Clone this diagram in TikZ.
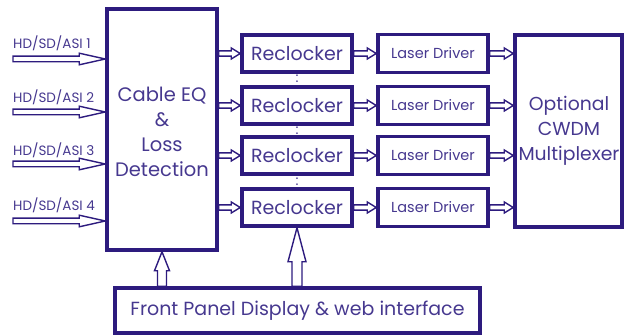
\documentclass[tikz,border=0pt]{standalone}
\usepackage{fontspec}
\setmainfont{Poppins}
\usetikzlibrary{calc,backgrounds}
\definecolor{navy}{HTML}{2D1B7E}
\definecolor{ink}{HTML}{46388F}
\tikzset{
  box/.style={draw=navy, line width=3.5pt, inner sep=0pt, text=ink, align=center},
  txt/.style={inner sep=0pt, text=ink, align=center},
  harrow/.style n args={3}{draw=navy, line width=1.4pt, fill=white, line join=miter,
    to path={
      ($(\tikztostart)!#1!90:(\tikztotarget)$)
      -- ($($(\tikztotarget)!#3!(\tikztostart)$)!#1!90:(\tikztotarget)$)
      -- ($($(\tikztotarget)!#3!(\tikztostart)$)!#2!90:(\tikztotarget)$)
      -- (\tikztotarget)
      -- ($($(\tikztotarget)!#3!(\tikztostart)$)!#2!-90:(\tikztotarget)$)
      -- ($($(\tikztotarget)!#3!(\tikztostart)$)!#1!-90:(\tikztotarget)$)
      -- ($(\tikztostart)!#1!-90:(\tikztotarget)$)
      -- cycle}},
  small/.style={harrow={2.6pt}{5.5pt}{9pt}},
  inlabel/.style={anchor=west, inner sep=0pt, text=ink, font=\fontsize{13.5}{15}\selectfont},
  dots/.style={inner sep=0pt, text=ink, font=\fontsize{14}{14}\selectfont}
}
\begin{document}
\begin{tikzpicture}[x=1pt,y=-1pt]
\useasboundingbox (0,0) rectangle (624,336);
% boxes
\node[box, minimum width=110pt, minimum height=241pt] (eq) at (162,129.5) {};
\node[txt, font=\fontsize{19.5}{25}\selectfont] (eqt) at (162,132) {Cable EQ\\\&\\Loss\\Detection};
\foreach \i/\y in {1/53.5,2/105.5,3/155.5,4/207.5}{
  \node[box, minimum width=110pt, minimum height=37pt, font=\fontsize{19}{20}\selectfont] (r\i) at (297,\y) {Reclocker};
  \node[box, minimum width=110pt, minimum height=38pt, font=\fontsize{14.5}{15}\selectfont] (l\i) at (433,\y) {Laser Driver};
}
\node[box, minimum width=107pt, minimum height=192pt] (mux) at (568.5,131) {};
\node[txt, font=\fontsize{18.8}{25}\selectfont] (muxt) at (569,131) {Optional\\CWDM\\Multiplexer};
\node[box, minimum width=365pt, minimum height=45pt, font=\fontsize{19}{22}\selectfont] (fp) at (297.5,310.5)
  {Front Panel Display \& web interface};
% inputs
\foreach \i/\y/\ly in {1/59/43,2/112/97,3/164/150,4/221/205}{
  \coordinate (in\i) at (13,\y);
  \node[inlabel] (lab\i) at (13,\ly) {HD/SD/ASI \i};
}
\node[dots] (d1) at (297,79) {:};
\node[dots] (d2) at (297,130.5) {:};
\node[dots] (d3) at (297,181.5) {:};
\begin{scope}[on background layer]
\foreach \i in {1,2,3,4}{
  \draw[harrow={2.8pt}{5.8pt}{26pt}] (in\i) to (in\i -| eq.west);
  \draw[small] (eq.east |- r\i) to (r\i.west);
  \draw[small] (r\i.east) to (l\i.west);
  \draw[small] (l\i.east) to (mux.west |- l\i);
}
\draw[harrow={4.5pt}{7.5pt}{19pt}] (fp.north -| eq.south) to (eq.south);
\draw[harrow={5pt}{9pt}{34pt}] (fp.north -| r4.south) to (r4.south);
\end{scope}
\end{tikzpicture}
\end{document}
